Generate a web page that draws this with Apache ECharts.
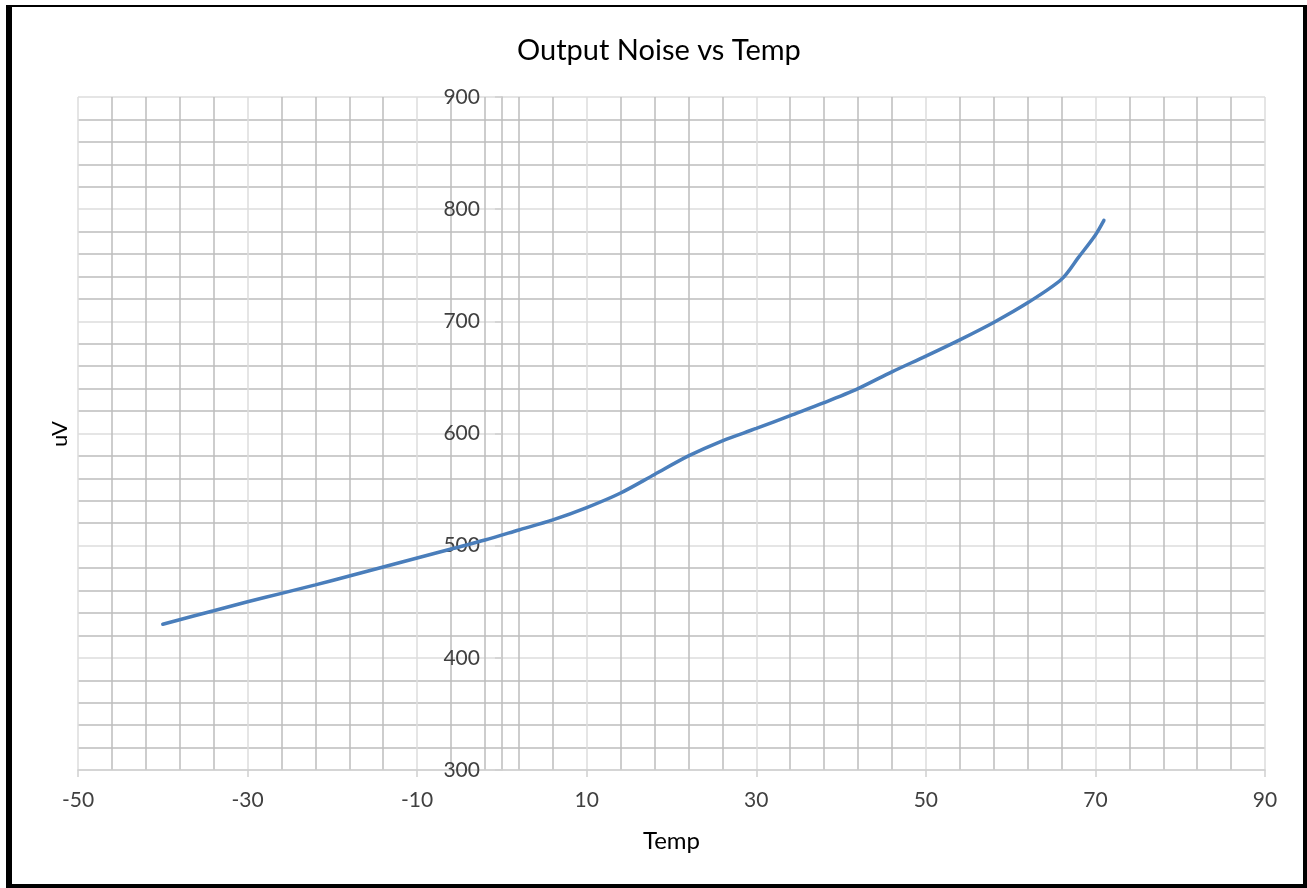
<!DOCTYPE html>
<html>
<head>
<meta charset="utf-8">
<script src="https://cdn.jsdelivr.net/npm/echarts@6/dist/echarts.min.js"></script>
<style>
html,body{margin:0;padding:0;background:#fff;}
#chart{position:absolute;left:0;top:0;width:1307px;height:888px;}
.b{position:absolute;background:#000;}
</style>
</head>
<body>
<div id="chart"></div>
<div class="b" style="left:6px;top:5px;width:1301px;height:2px;"></div>
<div class="b" style="left:6px;top:5px;width:6px;height:883px;"></div>
<div class="b" style="left:1303px;top:5px;width:4px;height:883px;"></div>
<div class="b" style="left:6px;top:884px;width:1301px;height:4px;"></div>
<script>
var temps = [-40, -34, -30, -26, -22, -18, -14, -10, -6, -2, 2, 6, 10, 14, 18, 22, 26, 30, 34, 38, 42, 46, 50, 54, 58, 62, 66, 68, 70, 71];
var noise = [430, 442, 450, 457.5, 465, 473, 481, 489, 497, 505, 514, 523, 534, 547, 563.5, 580, 593.5, 604.5, 616, 627.5, 640, 655, 669, 683.5, 699, 716.5, 737.5, 757, 777, 790];
var xTicks = {min: -50, max: 90, interval: 20};
var yTicks = {min: 300, max: 900, interval: 100};

var gridLeft = 78, gridRight = 42, chartWidth = 1307;
var gridWidth = chartWidth - gridLeft - gridRight;
// y axis crosses the x axis at 0
var yAxisOffset = -((0 - xTicks.min) / (xTicks.max - xTicks.min)) * gridWidth;

var chart = echarts.init(document.getElementById('chart'));
var font = 'Lato, "Liberation Sans", sans-serif';
chart.setOption({
  animation: false,
  backgroundColor: '#fff',
  title: {
    text: 'Output Noise vs Temp',
    left: 512,
    top: 31,
    textStyle: {fontFamily: font, fontSize: 29, fontWeight: 'normal', color: '#000'}
  },
  grid: {left: gridLeft, right: gridRight, top: 97, bottom: 118, containLabel: false},
  graphic: [{
    type: 'text',
    left: 49,
    top: 421,
    rotation: Math.PI / 2,
    style: {text: 'uV', font: '22px ' + font, fill: '#000'}
  }],
  xAxis: {
    type: 'value',
    min: xTicks.min, max: xTicks.max, interval: xTicks.interval,
    name: 'Temp',
    nameLocation: 'middle',
    nameGap: 59,
    nameTextStyle: {fontFamily: font, fontSize: 24, color: '#000'},
    axisLine: {onZero: false, lineStyle: {color: '#d0d0d0', width: 1.5}},
    axisTick: {show: true, length: 7, lineStyle: {color: '#d0d0d0', width: 1.5}},
    axisLabel: {margin: 20, fontFamily: font, fontSize: 21, color: '#404040'},
    splitLine: {show: true, lineStyle: {color: '#dcdcdc', width: 1.5}},
    minorTick: {show: false, splitNumber: 5},
    minorSplitLine: {show: true, lineStyle: {color: '#bdbdbd', width: 1.5}}
  },
  yAxis: {
    type: 'value',
    min: yTicks.min, max: yTicks.max, interval: yTicks.interval,
    offset: yAxisOffset,
    axisLine: {show: true, onZero: false, lineStyle: {color: '#bdbdbd', width: 1.5}},
    axisTick: {show: true, length: 7, lineStyle: {color: '#d0d0d0', width: 1.5}},
    axisLabel: {margin: 22, fontFamily: font, fontSize: 21, color: '#404040'},
    splitLine: {show: true, lineStyle: {color: '#dcdcdc', width: 1.5}},
    minorTick: {show: false, splitNumber: 5},
    minorSplitLine: {show: true, lineStyle: {color: '#bdbdbd', width: 1.5}}
  },
  series: [{
    type: 'line',
    data: temps.map(function (t, i) { return [t, noise[i]]; }),
    smooth: 0.3,
    showSymbol: false,
    symbol: 'none',
    lineStyle: {color: '#4a7ebb', width: 3.5, cap: 'round'}
  }]
});
</script>
</body>
</html>
